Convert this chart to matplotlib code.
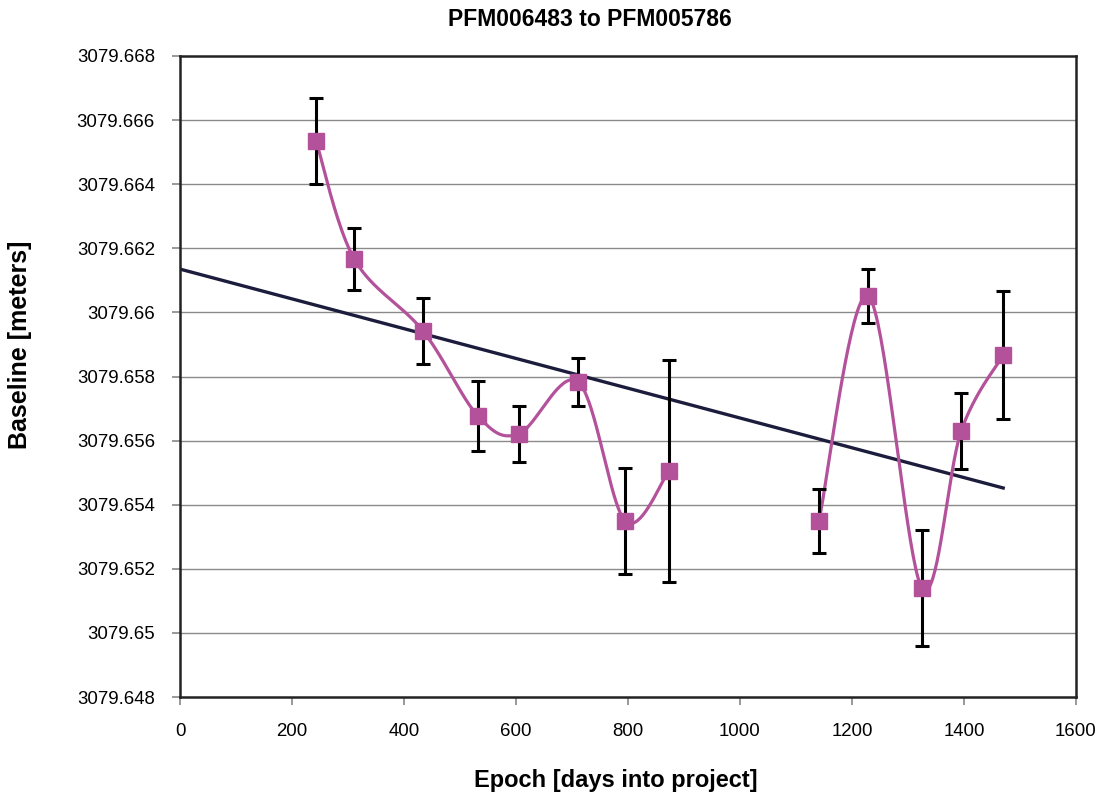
import numpy as np
import matplotlib
matplotlib.use('Agg')
import matplotlib.pyplot as plt

plt.rcParams['font.family'] = ['Liberation Sans', 'DejaVu Sans']

# epochs (days into project) and baseline lengths
epoch = [243, 311, 434, 532, 605, 711, 795, 873, 1141, 1229, 1325, 1395, 1470]
baseline = [3079.66535, 3079.66167, 3079.65942, 3079.65677, 3079.65621, 3079.65783,
            3079.65349, 3079.65505, 3079.65349, 3079.66051, 3079.65140, 3079.65630, 3079.65867]
err = [0.00135, 0.00097, 0.00103, 0.0011, 0.00088, 0.00075,
       0.00165, 0.00345, 0.0010, 0.00084, 0.0018, 0.0012, 0.0020]
# the smoothed line is broken (empty cell) between these two groups
groups = [(0, 8), (8, 13)]

yticks = [3079.648, 3079.65, 3079.652, 3079.654, 3079.656, 3079.658,
          3079.66, 3079.662, 3079.664, 3079.666, 3079.668]
ytick_labels = ['3079.648', '3079.65', '3079.652', '3079.654', '3079.656', '3079.658',
                '3079.66', '3079.662', '3079.664', '3079.666', '3079.668']
xticks = [0, 200, 400, 600, 800, 1000, 1200, 1400, 1600]

x = np.array(epoch, dtype=float)
y = np.array(baseline)


# excel-ish smoothed line (catmull-rom bezier)
def smooth(px, py, n=40):
    sx, sy = [], []
    for i in range(len(px) - 1):
        p0 = (px[i - 1], py[i - 1]) if i > 0 else (px[i], py[i])
        p1 = (px[i], py[i])
        p2 = (px[i + 1], py[i + 1])
        p3 = (px[i + 2], py[i + 2]) if i + 2 < len(px) else (px[i + 1], py[i + 1])
        c1 = (p1[0] + (p2[0] - p0[0]) / 6, p1[1] + (p2[1] - p0[1]) / 6)
        c2 = (p2[0] - (p3[0] - p1[0]) / 6, p2[1] - (p3[1] - p1[1]) / 6)
        t = np.linspace(0, 1, n)
        for k in range(2):
            pts = [p1[k], c1[k], c2[k], p2[k]]
            v = ((1 - t) ** 3 * pts[0] + 3 * (1 - t) ** 2 * t * pts[1]
                 + 3 * (1 - t) * t ** 2 * pts[2] + t ** 3 * pts[3])
            (sx if k == 0 else sy).extend(v)
    return np.array(sx), np.array(sy)


fig = plt.figure(figsize=(10.95, 7.98), dpi=100)
ax = fig.add_axes([180 / 1095, 1 - 697 / 798, (1076 - 180) / 1095, (697 - 56) / 798])

for yt in yticks[1:-1]:
    ax.axhline(yt, color='#8a8a8a', lw=1.0, zorder=0)

# linear trend line
m, b = np.polyfit(x, y, 1)
tx = np.array([0, x[-1]])
ax.plot(tx, m * tx + b, color='#1c1c3c', lw=2.4, zorder=2)

for g0, g1 in groups:
    sx, sy = smooth(x[g0:g1], y[g0:g1])
    ax.plot(sx, sy, color='#b4519b', lw=2.3, zorder=3)
ax.errorbar(x, y, yerr=err, fmt='none', ecolor='black', elinewidth=2.2,
            capsize=5, capthick=2.2, zorder=4)
ax.plot(x, y, 's', color='#b4519b', markersize=12, zorder=5)

ax.set_xlim(0, 1600)
ax.set_ylim(3079.648, 3079.668)
ax.set_xticks(xticks)
ax.set_yticks(yticks)
ax.set_yticklabels(ytick_labels)
ax.tick_params(axis='both', labelsize=13.4, direction='out', colors='#888888',
               labelcolor='black', length=6, width=1.2)
ax.tick_params(axis='y', pad=12)
ax.tick_params(axis='x', pad=13)
for s in ax.spines.values():
    s.set_linewidth(1.8)
    s.set_color('#222222')

fig.text(590 / 1095, 1 - 20 / 798, 'PFM006483 to PFM005786', fontsize=16.5,
         fontweight='bold', ha='center', va='center')
fig.text(616 / 1095, 1 - 780 / 798, 'Epoch [days into project]', fontsize=17,
         fontweight='bold', ha='center', va='center')
fig.text(20 / 1095, 1 - 345 / 798, 'Baseline [meters]', fontsize=18,
         fontweight='bold', ha='center', va='center', rotation=90)

fig.savefig('out.png', dpi=100)
